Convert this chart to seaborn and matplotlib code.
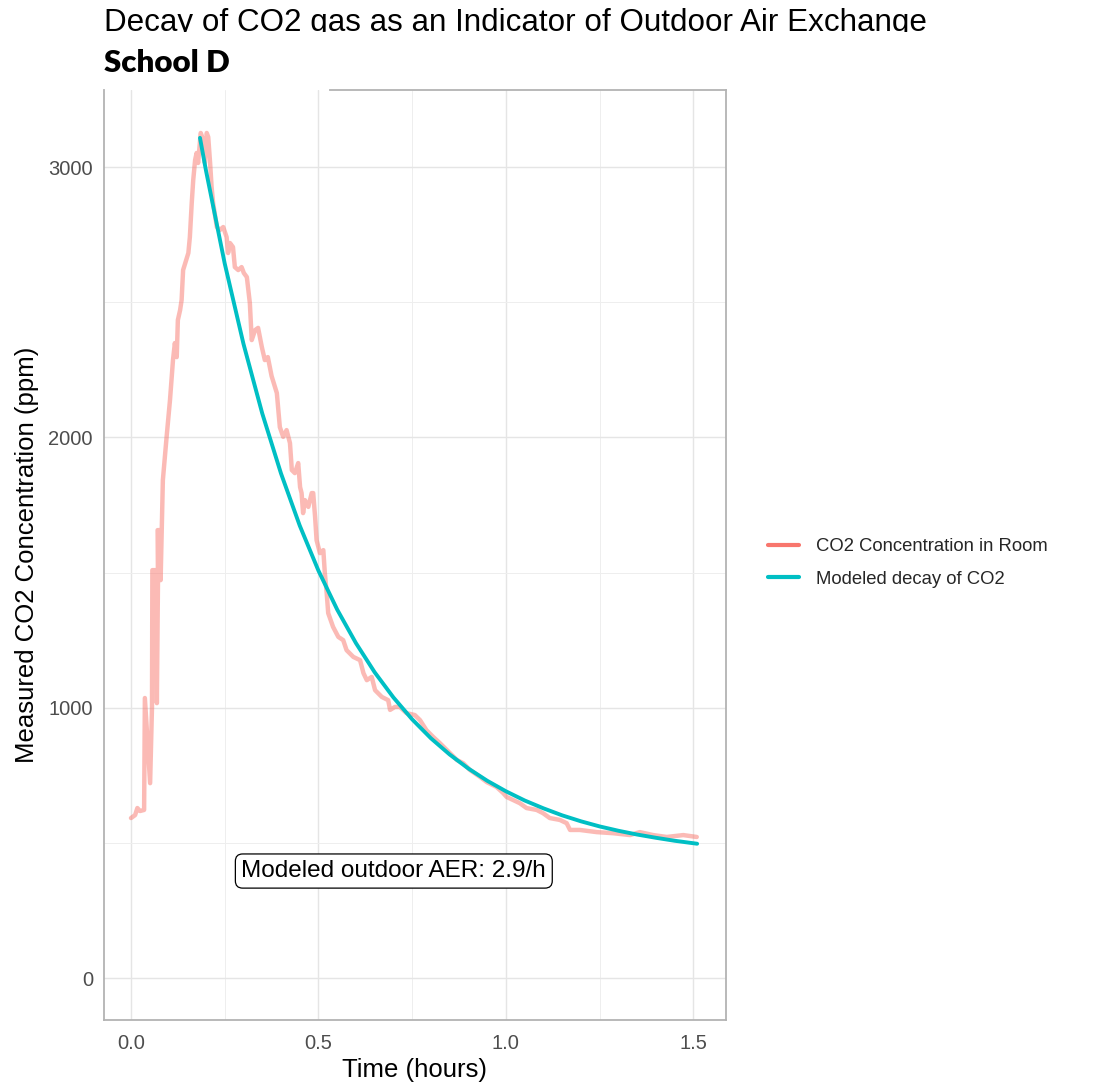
import numpy as np
import pandas as pd
import seaborn as sns
import matplotlib.pyplot as plt
from matplotlib.lines import Line2D
from matplotlib.patches import Rectangle
from matplotlib.ticker import MultipleLocator

# measured CO2 in the room
room_t = [0.000, 0.011, 0.017, 0.024, 0.035, 0.037, 0.051, 0.056, 0.057, 0.066,
          0.069, 0.072, 0.071, 0.079, 0.079, 0.085, 0.095, 0.104, 0.112, 0.117,
          0.122, 0.125, 0.131, 0.135, 0.139, 0.153, 0.157, 0.162, 0.166, 0.171,
          0.175, 0.179, 0.186, 0.193, 0.197, 0.202, 0.206, 0.211, 0.215, 0.219,
          0.229, 0.237, 0.246, 0.255, 0.259, 0.264, 0.272, 0.277, 0.286, 0.295,
          0.301, 0.309, 0.317, 0.322, 0.331, 0.339, 0.349, 0.357, 0.365, 0.375,
          0.389, 0.397, 0.406, 0.415, 0.424, 0.429, 0.437, 0.446, 0.451, 0.455,
          0.459, 0.464, 0.473, 0.482, 0.486, 0.491, 0.495, 0.504, 0.513, 0.517,
          0.522, 0.526, 0.539, 0.553, 0.566, 0.575, 0.593, 0.611, 0.620, 0.629,
          0.642, 0.651, 0.669, 0.686, 0.691, 0.704, 0.717, 0.735, 0.757, 0.771,
          0.788, 0.806, 0.824, 0.842, 0.869, 0.886, 0.904, 0.931, 0.949, 0.975,
          0.993, 1.002, 1.019, 1.037, 1.055, 1.082, 1.099, 1.117, 1.144, 1.162,
          1.171, 1.197, 1.242, 1.286, 1.331, 1.357, 1.393, 1.429, 1.473, 1.509]
room_ppm = [592, 603, 629, 618, 622, 1036, 721, 1003, 1509, 1509,
            1017, 1472, 1657, 1657, 1472, 1842, 2002, 2138, 2286, 2349,
            2297, 2434, 2471, 2508, 2619, 2682, 2741, 2867, 2952, 3026,
            3052, 3015, 3126, 3100, 3015, 3126, 3111, 3015, 2926, 2867,
            2778, 2767, 2778, 2741, 2682, 2719, 2704, 2630, 2619, 2630,
            2608, 2593, 2497, 2360, 2397, 2405, 2334, 2286, 2297, 2227,
            2164, 2038, 2002, 2027, 1979, 1879, 1868, 1905, 1816, 1794,
            1720, 1768, 1743, 1794, 1794, 1706, 1620, 1572, 1583, 1498,
            1424, 1350, 1299, 1262, 1250, 1213, 1188, 1176, 1128, 1102,
            1114, 1065, 1040, 1028, 992, 1003, 1003, 980, 973, 954,
            917, 892, 869, 844, 807, 795, 770, 744, 725, 707,
            684, 670, 659, 647, 629, 622, 610, 592, 585, 573,
            548, 548, 540, 536, 529, 540, 529, 522, 529, 522]

# modeled decay curve
model_t = [0.184, 0.20, 0.25, 0.30, 0.35, 0.40, 0.45, 0.50, 0.55, 0.60,
           0.65, 0.70, 0.75, 0.80, 0.85, 0.90, 0.95, 1.00, 1.05, 1.10,
           1.15, 1.20, 1.25, 1.30, 1.35, 1.40, 1.45, 1.51]
model_ppm = [3108, 2987, 2643, 2346, 2089, 1867, 1674, 1507, 1363, 1239,
             1131, 1038, 957, 887, 827, 775, 730, 691, 657, 628,
             602, 580, 561, 545, 531, 519, 508, 497]

series_names = ["CO2 Concentration in Room", "Modeled decay of CO2"]
series_colors = ["#F8766D", "#00BFC4"]
aer_label = "Modeled outdoor AER: 2.9/h"

room = pd.DataFrame({"t": room_t, "ppm": room_ppm})
model = pd.DataFrame({"t": model_t, "ppm": model_ppm})

sns.set_theme(style="whitegrid")
plt.rcParams["font.family"] = ["Liberation Sans", "DejaVu Sans"]

fig = plt.figure(figsize=(10.96, 10.87), dpi=100)
ax = fig.add_axes([104 / 1096, 1 - 1020 / 1087, 622 / 1096, 930 / 1087])

sns.lineplot(data=room, x="t", y="ppm", ax=ax, color=series_colors[0], alpha=0.5,
             lw=3.2, estimator=None, sort=False)
sns.lineplot(data=model, x="t", y="ppm", ax=ax, color=series_colors[1],
             lw=2.8, estimator=None, sort=False)

ax.set_xlim(-0.072, 1.587)
ax.set_ylim(-155, 3285)
ax.xaxis.set_major_locator(MultipleLocator(0.5))
ax.xaxis.set_minor_locator(MultipleLocator(0.25))
ax.yaxis.set_major_locator(MultipleLocator(1000))
ax.yaxis.set_minor_locator(MultipleLocator(500))
ax.set_xticks([0, 0.5, 1.0, 1.5])
ax.set_xticklabels(["0.0", "0.5", "1.0", "1.5"])
ax.grid(which="major", color="#E5E5E5", lw=1.0)
ax.grid(which="minor", color="#EEEEEE", lw=0.7)
ax.set_axisbelow(True)
for s in ax.spines.values():
    s.set_color("#B3B3B3")
    s.set_linewidth(1.3)
# top border is missing on the left part in the original
ax.spines["top"].set_bounds(0.531, 1.587)
ax.tick_params(which="major", length=4, width=1.0, color="#B3B3B3",
               labelsize=14.5, labelcolor="#4D4D4D", pad=4)
ax.tick_params(axis="x", which="major", pad=6)
ax.tick_params(which="minor", length=0)
ax.set_xlabel("Time (hours)", fontsize=18.5, color="black", labelpad=4)
ax.set_ylabel("Measured CO2 Concentration (ppm)", fontsize=18.5, color="black", labelpad=7)

ax.text(0.701, 396, aer_label, fontsize=17.5, ha="center", va="center", color="black",
        bbox=dict(boxstyle="round,pad=0.25,rounding_size=0.3", fc="white", ec="black", lw=0.9))

handles = [Line2D([], [], color=c, lw=3) for c in series_colors]
fig.legend(handles, series_names, loc="center left", bbox_to_anchor=(768 / 1096, 1 - 563 / 1087),
           frameon=False, fontsize=13.3, handlelength=1.7, handletextpad=0.9,
           labelspacing=0.85, borderpad=0, borderaxespad=0)

fig.text(104 / 1096, 1 - 31 / 1087, "Decay of CO2 gas as an Indicator of Outdoor Air Exchange",
         fontsize=22.6, va="baseline", ha="left", color="black")
# white patch over the title's descenders (as in the original)
fig.patches.append(Rectangle((0, 1 - 86 / 1087), 1, 54 / 1087,
                             transform=fig.transFigure, fc="white", ec="none", zorder=5))
fig.text(104 / 1096, 1 - 72 / 1087, "School D", fontsize=22.5, fontweight="heavy",
         family=["Lato", "DejaVu Sans"], va="baseline", ha="left", color="black", zorder=6)

fig.savefig("out.png", dpi=100, facecolor="white")
